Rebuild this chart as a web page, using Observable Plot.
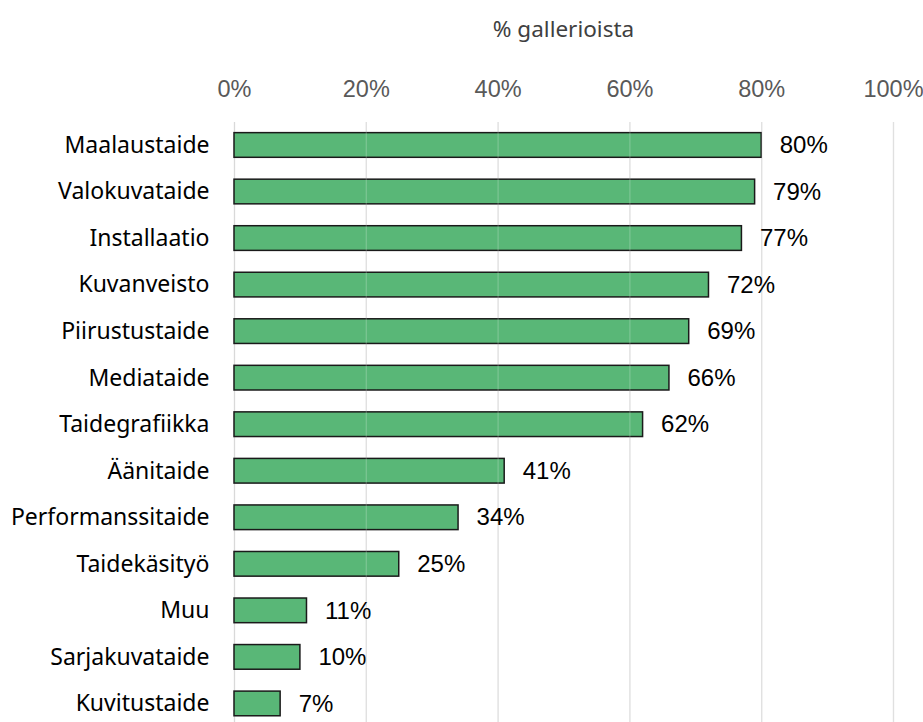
<!DOCTYPE html>
<html>
<head>
<meta charset="utf-8">
<script src="https://cdn.jsdelivr.net/npm/d3@7"></script>
<script src="https://cdn.jsdelivr.net/npm/@observablehq/plot@0.6"></script>
<style>
  body { margin: 0; background: #fff; }
  #wrap { position: relative; width: 923px; height: 722px; overflow: hidden; }
  #title { position: absolute; top: 14px; left: 234px; width: 659px; text-align: center;
           font-family: "Noto Sans", sans-serif; font-size: 22.5px; color: #404040; line-height: 30px; }
  #chart { position: absolute; top: 55px; left: 0; }
</style>
</head>
<body>
<div id="wrap">
  <div id="title">% gallerioista</div>
  <div id="chart"></div>
</div>
<script>
const categories = ["Maalaustaide","Valokuvataide","Installaatio","Kuvanveisto","Piirustustaide","Mediataide","Taidegrafiikka","Äänitaide","Performanssitaide","Taidekäsityö","Muu","Sarjakuvataide","Kuvitustaide"];
const values = [80, 79, 77, 72, 69, 66, 62, 41, 34, 25, 11, 10, 7];
const xTicks = [0, 20, 40, 60, 80, 100];

const data = categories.map((c, i) => ({category: c, value: values[i]}));

const plot = Plot.plot({
  width: 923,
  height: 667,
  marginLeft: 234,
  marginRight: 30,
  marginTop: 67,
  marginBottom: 0,
  style: {fontFamily: "'Noto Sans', sans-serif", fontSize: "23px", background: "#fff", overflow: "visible"},
  x: {domain: [0, 100], ticks: xTicks, axis: null, label: null},
  y: {domain: categories, range: [66.7, 671.7], round: false, paddingInner: 0.47, paddingOuter: 0.235, axis: null, label: null},
  marks: [
    Plot.gridX(xTicks, {stroke: "#d9d9d9", strokeOpacity: 1, strokeWidth: 1.3}),
    Plot.axisX({anchor: "top", ticks: xTicks, tickSize: 0, tickPadding: 26, label: null, tickFormat: d => d + "%",
      fill: "#595959", fontSize: 23.5, fontFamily: "'Liberation Sans', Arial, sans-serif"}),
    Plot.axisY({tickSize: 0, tickPadding: 25, label: null, fill: "#000", fontSize: 23, fontFamily: "'Noto Sans', sans-serif"}),
    Plot.barX(data, {x: "value", y: "category", fill: "#59b777", stroke: "#1a1a1a", strokeWidth: 1.5}),
    Plot.gridX(xTicks.filter(d => d > 0), {stroke: "#ffffff", strokeOpacity: 0.2, strokeWidth: 1.3}),
    Plot.text(data, {x: "value", y: "category", text: d => d.value + "%", dx: 18, textAnchor: "start",
      fill: "#000", fontSize: 24, fontFamily: "'Liberation Sans', Arial, sans-serif"})
  ]
});
document.getElementById("chart").appendChild(plot);
</script>
</body>
</html>
